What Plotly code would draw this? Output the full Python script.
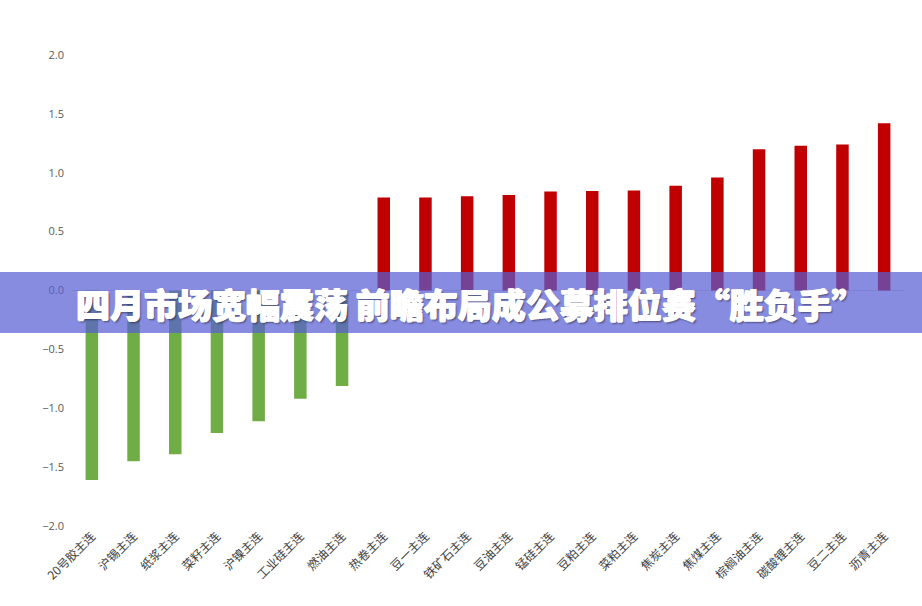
import plotly.graph_objects as go

# 品种 与 涨跌幅(%)
categories = ['20号胶主连', '沪锡主连', '纸浆主连', '菜籽主连', '沪镍主连', '工业硅主连', '燃油主连',
              '热卷主连', '豆一主连', '铁矿石主连', '豆油主连', '锰硅主连', '豆粕主连', '菜粕主连',
              '焦炭主连', '焦煤主连', '棕榈油主连', '碳酸锂主连', '豆二主连', '沥青主连']
values = [-1.61, -1.45, -1.39, -1.21, -1.11, -0.92, -0.81,
          0.79, 0.79, 0.80, 0.81, 0.84, 0.845, 0.85,
          0.89, 0.96, 1.20, 1.23, 1.24, 1.42]
y_ticks = [-2.0, -1.5, -1.0, -0.5, 0.0, 0.5, 1.0, 1.5, 2.0]
title = '四月市场宽幅震荡 前瞻布局成公募排位赛“胜负手”'

colors = ['#c00000' if v > 0 else '#70ad47' for v in values]

fig = go.Figure(go.Bar(x=categories, y=values, marker_color=colors,
                       marker_line_width=0, width=0.3))

H = 471  # 绘图区高度
fig.update_layout(
    width=922, height=606,
    margin=dict(l=71, r=17, t=55, b=80, autoexpand=False),
    plot_bgcolor='white', paper_bgcolor='white',
    showlegend=False,
    font=dict(family='Noto Sans CJK SC', color='#404040'),
    xaxis=dict(tickangle=-45, tickfont=dict(size=12, color='#404040'),
               showgrid=False, showline=False, ticks='', automargin=False),
    yaxis=dict(range=[-2, 2], tickvals=y_ticks, tickformat='.1f', automargin=False,
               tickfont=dict(family='Open Sans', size=11, color='#595959'),
               showgrid=False, zeroline=True, zerolinecolor='#d9d9d9', zerolinewidth=1,
               ticklabelstandoff=6),
)

# 标题横幅
fig.add_shape(type='rect', xref='paper', yref='paper', x0=-0.2, x1=1.2,
              y0=(526 - 333) / H, y1=(526 - 272) / H,
              fillcolor='rgba(87,93,211,0.71)', line_width=0, layer='above')
fig.add_annotation(text='<b>' + title + '</b>', xref='paper', yref='paper',
                   x=(471 - 71) / 834, y=(526 - 303) / H, showarrow=False,
                   font=dict(family='Noto Sans CJK SC Black, Noto Sans CJK SC', size=34,
                             color='white', weight=900,
                             shadow='0.7px 0 0 white, -0.7px 0 0 white, 0 0.7px 0 white, '
                                    '1.5px 1.5px 2px rgba(0,0,0,0.45)'))

fig.write_html('out.html', config={'displayModeBar': False},
               post_script="document.body.style.margin='0';")
